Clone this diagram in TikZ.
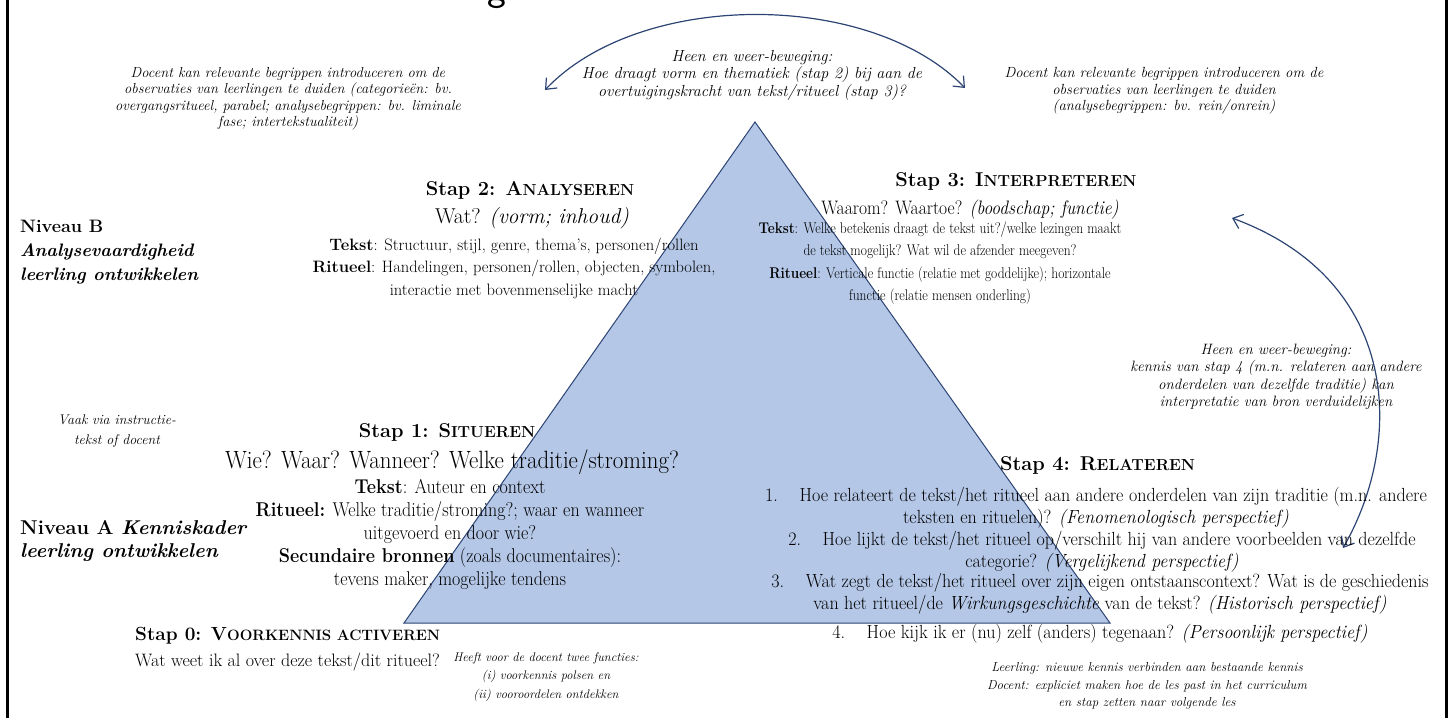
\documentclass[tikz,border=0pt]{standalone}
\usepackage{fontspec}
\usetikzlibrary{arrows.meta}
\definecolor{navy}{RGB}{44,68,115}
\definecolor{trifill}{RGB}{180,199,231}
\newcommand\fsz[2]{\fontsize{#1}{#2}\selectfont}
\newcommand\ssc[2]{{\fontsize{#1}{#1}\selectfont #2}}
\begin{document}
\begin{tikzpicture}[x=1pt,y=-1pt,
  body/.style={align=center, inner sep=0pt},
  cmt/.style={align=center, inner sep=0pt, font=\itshape\fsz{14.5}{16.5}},
  barb/.tip={Straight Barb[length=9pt,width=15pt,line width=1.2pt]},
  arr/.style={draw=navy, line width=1.2pt, barb-barb}]
\useasboundingbox (0,0) rectangle (1452,718);
\clip (0,0) rectangle (1452,718);

% frame sides
\draw[line width=3pt] (7,0) -- (7,718);
\draw[line width=3pt] (1446,0) -- (1446,718);

% cut title fragment
\node[font=\fsz{40}{40}\sffamily, anchor=base, inner sep=0pt] (ttl) at (497,0) {g};

% triangle
\coordinate (apex) at (755,122);
\coordinate (bl) at (404,623);
\coordinate (br) at (1110,623);
\filldraw[fill=trifill, draw=navy, line width=1pt] (apex) -- (bl) -- (br) -- cycle;

% top arc
\coordinate (aL) at (545,90);
\coordinate (aR) at (965,88);
\draw[arr] (aL) .. controls (640,-10) and (870,-10) .. (aR);

\node[cmt, font=\itshape\fsz{16}{17.5}] (heen) at (752,75) {Heen en weer-beweging:\\ Hoe draagt vorm en thematiek (stap 2) bij aan de\\ overtuigingskracht van tekst/ritueel (stap 3)?};

\node[cmt] (cl) at (288,99) {Docent kan relevante begrippen introduceren om de\\ observaties van leerlingen te duiden (categorieën: bv.\\ overgangsritueel, parabel; analysebegrippen: bv. liminale\\ fase; intertekstualiteit)};

\node[cmt, font=\itshape\fsz{14.7}{16.5}] (cr) at (1164,91) {Docent kan relevante begrippen introduceren om de\\ observaties van leerlingen te duiden\\ (analysebegrippen: bv. rein/onrein)};

% Niveau labels
\node[align=left, anchor=west, inner sep=0pt, font=\fsz{18}{24}] (nivB) at (20,252) {\textbf{Niveau B}\\ \textbf{\textit{Analysevaardigheid}}\\ \textbf{\textit{leerling ontwikkelen}}};
\node[align=left, anchor=west, inner sep=0pt, font=\fsz{20}{23}] (nivA) at (20,541) {\textbf{Niveau A \textit{Kenniskader}}\\ \textbf{\textit{leerling ontwikkelen}}};

\node[cmt, font=\itshape\fsz{14}{20}] (vaak) at (117,431) {Vaak via instructie-\\ tekst of docent};

% Stap 2
\node[body, font=\fsz{20}{20}] (s2t) at (530,190) {\textbf{Stap 2: A\ssc{16}{NALYSEREN}}};
\node[body, font=\fsz{21.5}{21.5}] (s2q) at (532,218) {Wat? \textit{(vorm; inhoud)}};
\node[body, font=\fsz{16.5}{22.5}] (s2b) at (514,268) {\textbf{Tekst}: Structuur, stijl, genre, thema's, personen/rollen\\ \textbf{Ritueel}: Handelingen, personen/rollen, objecten, symbolen,\\ interactie met bovenmenselijke macht};

% Stap 3
\node[body, font=\fsz{20}{20}] (s3t) at (1016,181) {\textbf{Stap 3: I\ssc{16}{NTERPRETEREN}}};
\begin{scope}[shift={(970,210)}, xscale=0.9]
\node[body, transform shape, font=\fsz{19.5}{19.5}] (s3q) at (0,0) {Waarom? Waartoe? \textit{(boodschap; functie)}};
\end{scope}
\begin{scope}[shift={(940,263)}, xscale=0.87]
\node[body, transform shape, font=\fsz{15.5}{22.3}] (s3b) at (0,0) {\textbf{Tekst}: Welke betekenis draagt de tekst uit?/welke lezingen maakt\\ de tekst mogelijk? Wat wil de afzender meegeven?\\ \textbf{Ritueel}: Verticale functie (relatie met goddelijke); horizontale\\ functie (relatie mensen onderling)};
\end{scope}

% right curved arrow
\coordinate (r1) at (1232,218);
\coordinate (r2) at (1343,548);
\draw[arr] (r1) .. controls (1400,280) and (1405,440) .. (r2);
\node[cmt, font=\itshape\fsz{15}{17.5}] (cm) at (1276,377) {Heen en weer-beweging:\\ kennis van stap 4 (m.n. relateren aan andere\\ onderdelen van dezelfde traditie) kan\\ interpretatie van bron verduidelijken};

% Stap 1
\node[body, font=\fsz{20}{20}] (s1t) at (447,432) {\textbf{Stap 1: S\ssc{16}{ITUEREN}}};
\begin{scope}[shift={(452,462)}, xscale=0.915]
\node[body, transform shape, font=\fsz{25}{25}] (s1q) at (0,0) {Wie? Waar? Wanneer? Welke traditie/stroming?};
\end{scope}
\begin{scope}[shift={(450,534)}, xscale=0.9]
\node[body, transform shape, font=\fsz{20}{23}] (s1b) at (0,0) {\textbf{Tekst}: Auteur en context\\ \textbf{Ritueel:} Welke traditie/stroming?; waar en wanneer\\ uitgevoerd en door wie?\\ \textbf{Secundaire bronnen} (zoals documentaires):\\ tevens maker, mogelijke tendens};
\end{scope}

% Stap 0
\node[anchor=west, inner sep=0pt, font=\fsz{19}{19}] (s0t) at (135,636) {\textbf{Stap 0: V\ssc{15}{OORKENNIS ACTIVEREN}}};
\node[anchor=west, inner sep=0pt, font=\fsz{18}{18}] (s0q) at (135,662) {Wat weet ik al over deze tekst/dit ritueel?};
\node[cmt, font=\itshape\fsz{12.5}{18.5}] (heeft) at (546,677) {Heeft voor de docent twee functies:\\ (i) voorkennis polsen en\\ (ii) vooroordelen ontdekken};

% Stap 4
\node[anchor=west, inner sep=0pt, font=\fsz{20}{20}] (s4t) at (1000,465) {\textbf{Stap 4: R\ssc{16}{ELATEREN}}};
\begin{scope}[shift={(1096,508)}, xscale=0.95]
\node[body, transform shape, font=\fsz{19}{22}] (i1) at (0,0) {1.\hspace{1.2em}Hoe relateert de tekst/het ritueel aan andere onderdelen van zijn traditie (m.n. andere\\ teksten en rituelen)? \textit{(Fenomenologisch perspectief)}};
\end{scope}
\begin{scope}[shift={(1102,552)}, xscale=0.95]
\node[body, transform shape, font=\fsz{19}{22}] (i2) at (0,0) {2.\hspace{1.2em}Hoe lijkt de tekst/het ritueel op/verschilt hij van andere voorbeelden van dezelfde\\ categorie? \textit{(Vergelijkend perspectief)}};
\end{scope}
\begin{scope}[shift={(1100,594)}, xscale=0.95]
\node[body, transform shape, font=\fsz{19}{22}] (i3) at (0,0) {3.\hspace{1.2em}Wat zegt de tekst/het ritueel over zijn eigen ontstaanscontext? Wat is de geschiedenis\\ van het ritueel/de \textit{Wirkungsgeschichte} van de tekst? \textit{(Historisch perspectief)}};
\end{scope}
\begin{scope}[shift={(1100,634)}, xscale=0.95]
\node[body, transform shape, font=\fsz{19}{22}] (i4) at (0,0) {4.\hspace{1.2em}Hoe kijk ik er (nu) zelf (anders) tegenaan? \textit{(Persoonlijk perspectief)}};
\end{scope}

\node[cmt, font=\itshape\fsz{13}{17.5}] (cb) at (1147,686) {Leerling: nieuwe kennis verbinden aan bestaande kennis\\ Docent: expliciet maken hoe de les past in het curriculum\\ en stap zetten naar volgende les};
\end{tikzpicture}
\end{document}
